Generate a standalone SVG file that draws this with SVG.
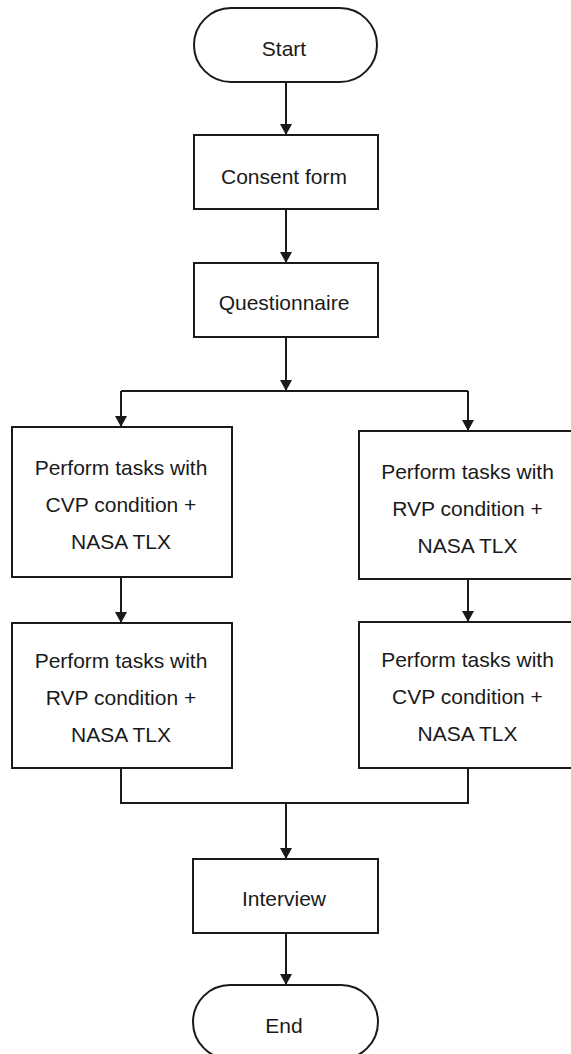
<svg xmlns="http://www.w3.org/2000/svg" width="571" height="1054" viewBox="0 0 571 1054">
<style>
  .shape { fill: #ffffff; stroke: #1a1a1a; stroke-width: 2; }
  .conn { fill: none; stroke: #1a1a1a; stroke-width: 2; }
  .label { font-family: "Liberation Sans", Arial, sans-serif; font-size: 21px; fill: #1a1a1a; text-anchor: middle; }
</style>
<defs>
  <marker id="arrow" viewBox="0 0 11 12" refX="11" refY="6" markerWidth="11" markerHeight="12" markerUnits="userSpaceOnUse" orient="auto">
    <path d="M0,0 L11,6 L0,12 z" fill="#1a1a1a"/>
  </marker>
</defs>
<rect width="571" height="1054" fill="#ffffff"/>
<g id="connectors">
  <line class="conn" x1="286" y1="82" x2="286" y2="135" marker-end="url(#arrow)"/>
  <line class="conn" x1="286" y1="209" x2="286" y2="263" marker-end="url(#arrow)"/>
  <line class="conn" x1="286" y1="337" x2="286" y2="391" marker-end="url(#arrow)"/>
  <path class="conn" d="M121,391 H468"/>
  <line class="conn" x1="121" y1="391" x2="121" y2="427" marker-end="url(#arrow)"/>
  <line class="conn" x1="468" y1="391" x2="468" y2="431" marker-end="url(#arrow)"/>
  <line class="conn" x1="121" y1="577" x2="121" y2="623" marker-end="url(#arrow)"/>
  <line class="conn" x1="468" y1="579" x2="468" y2="622" marker-end="url(#arrow)"/>
  <path class="conn" d="M121,768 V803 H468 V768"/>
  <line class="conn" x1="286" y1="803" x2="286" y2="859" marker-end="url(#arrow)"/>
  <line class="conn" x1="286" y1="933" x2="286" y2="985" marker-end="url(#arrow)"/>
</g>
<g id="start">
  <rect class="shape" x="194" y="8" width="183" height="74" rx="37" ry="37"/>
  <text class="label" x="284" y="56">Start</text>
</g>
<g id="consent">
  <rect class="shape" x="194" y="135" width="184" height="74"/>
  <text class="label" x="284" y="184">Consent form</text>
</g>
<g id="questionnaire">
  <rect class="shape" x="194" y="263" width="184" height="74"/>
  <text class="label" x="284" y="310">Questionnaire</text>
</g>
<g id="left1">
  <rect class="shape" x="12" y="427" width="220" height="150"/>
  <text class="label" x="121" y="475">Perform tasks with</text>
  <text class="label" x="121" y="512">CVP condition +</text>
  <text class="label" x="121" y="549">NASA TLX</text>
</g>
<g id="right1">
  <rect class="shape" x="359" y="431" width="220" height="148"/>
  <text class="label" x="467.5" y="479">Perform tasks with</text>
  <text class="label" x="467.5" y="516">RVP condition +</text>
  <text class="label" x="467.5" y="553">NASA TLX</text>
</g>
<g id="left2">
  <rect class="shape" x="12" y="623" width="220" height="145"/>
  <text class="label" x="121" y="668">Perform tasks with</text>
  <text class="label" x="121" y="705">RVP condition +</text>
  <text class="label" x="121" y="742">NASA TLX</text>
</g>
<g id="right2">
  <rect class="shape" x="359" y="622" width="220" height="146"/>
  <text class="label" x="467.5" y="667">Perform tasks with</text>
  <text class="label" x="467.5" y="704">CVP condition +</text>
  <text class="label" x="467.5" y="741">NASA TLX</text>
</g>
<g id="interview">
  <rect class="shape" x="193" y="859" width="185" height="74"/>
  <text class="label" x="284" y="906">Interview</text>
</g>
<g id="end">
  <rect class="shape" x="193" y="985" width="185" height="74" rx="37" ry="37"/>
  <text class="label" x="284" y="1033">End</text>
</g>
</svg>
